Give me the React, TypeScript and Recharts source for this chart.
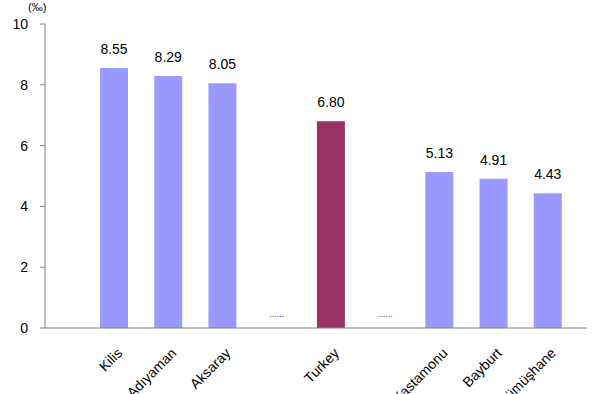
import { BarChart, Bar, XAxis, YAxis, Cell, LabelList } from "recharts"

const provinces = ["Kilis", "Adıyaman", "Aksaray", "", "Turkey", "", "Kastamonu", "Bayburt", "Gümüşhane"]
const rates = [8.55, 8.29, 8.05, 0, 6.8, 0, 5.13, 4.91, 4.43]
const yTicks = [0, 2, 4, 6, 8, 10]

const data = provinces.map((name, i) => ({ name, rate: rates[i] }))

const font = "'Liberation Sans', Arial, sans-serif"

function AxisTick(props: any) {
  const { x, y, payload } = props
  // the skipped rows between groups are shown as a dotted mark just above the axis
  if (!payload.value) {
    return (
      <text x={x} y={y - 19} textAnchor="middle" fontSize={9} fill="#333" fontFamily={font}>
        ......
      </text>
    )
  }
  return (
    <text
      x={0}
      y={0}
      transform={`translate(${x + 9},${y + 18}) rotate(-45)`}
      textAnchor="end"
      fontSize={14}
      fontFamily={font}
      fill="#000"
    >
      {payload.value}
    </text>
  )
}

function ValueLabel(props: any) {
  const { x, y, width, value } = props
  if (!value) return null
  return (
    <text x={x + width / 2} y={y - 14} textAnchor="middle" fontSize={14} fill="#000" fontFamily={font}>
      {Number(value).toFixed(2)}
    </text>
  )
}

export default function App() {
  return (
    <div style={{ position: "absolute", left: 0, top: 0, width: 600, height: 394, background: "#fff" }}>
      <BarChart width={600} height={394} data={data} margin={{ top: 24, right: 13, bottom: 36, left: 0 }}>
        <XAxis
          dataKey="name"
          height={30}
          tick={<AxisTick />}
          tickLine={false}
          axisLine={{ stroke: "#808080" }}
          padding={{ left: 42, right: 12 }}
          interval={0}
        />
        <YAxis
          width={45}
          domain={[0, 10]}
          ticks={yTicks}
          tickSize={5}
          tickMargin={12}
          axisLine={{ stroke: "#808080" }}
          tickLine={{ stroke: "#808080" }}
          tick={{ fontSize: 14, fill: "#000", fontFamily: font }}
        />
        <Bar dataKey="rate" barSize={28} isAnimationActive={false}>
          {data.map((d, i) => (
            <Cell key={i} fill={d.name === "Turkey" ? "#993366" : "#9999ff"} />
          ))}
          <LabelList dataKey="rate" content={<ValueLabel />} />
        </Bar>
      </BarChart>
      <div
        style={{
          position: "absolute",
          left: 28,
          top: 1,
          fontSize: 11,
          fontFamily: font,
          color: "#000",
        }}
      >
        (‰)
      </div>
    </div>
  )
}
